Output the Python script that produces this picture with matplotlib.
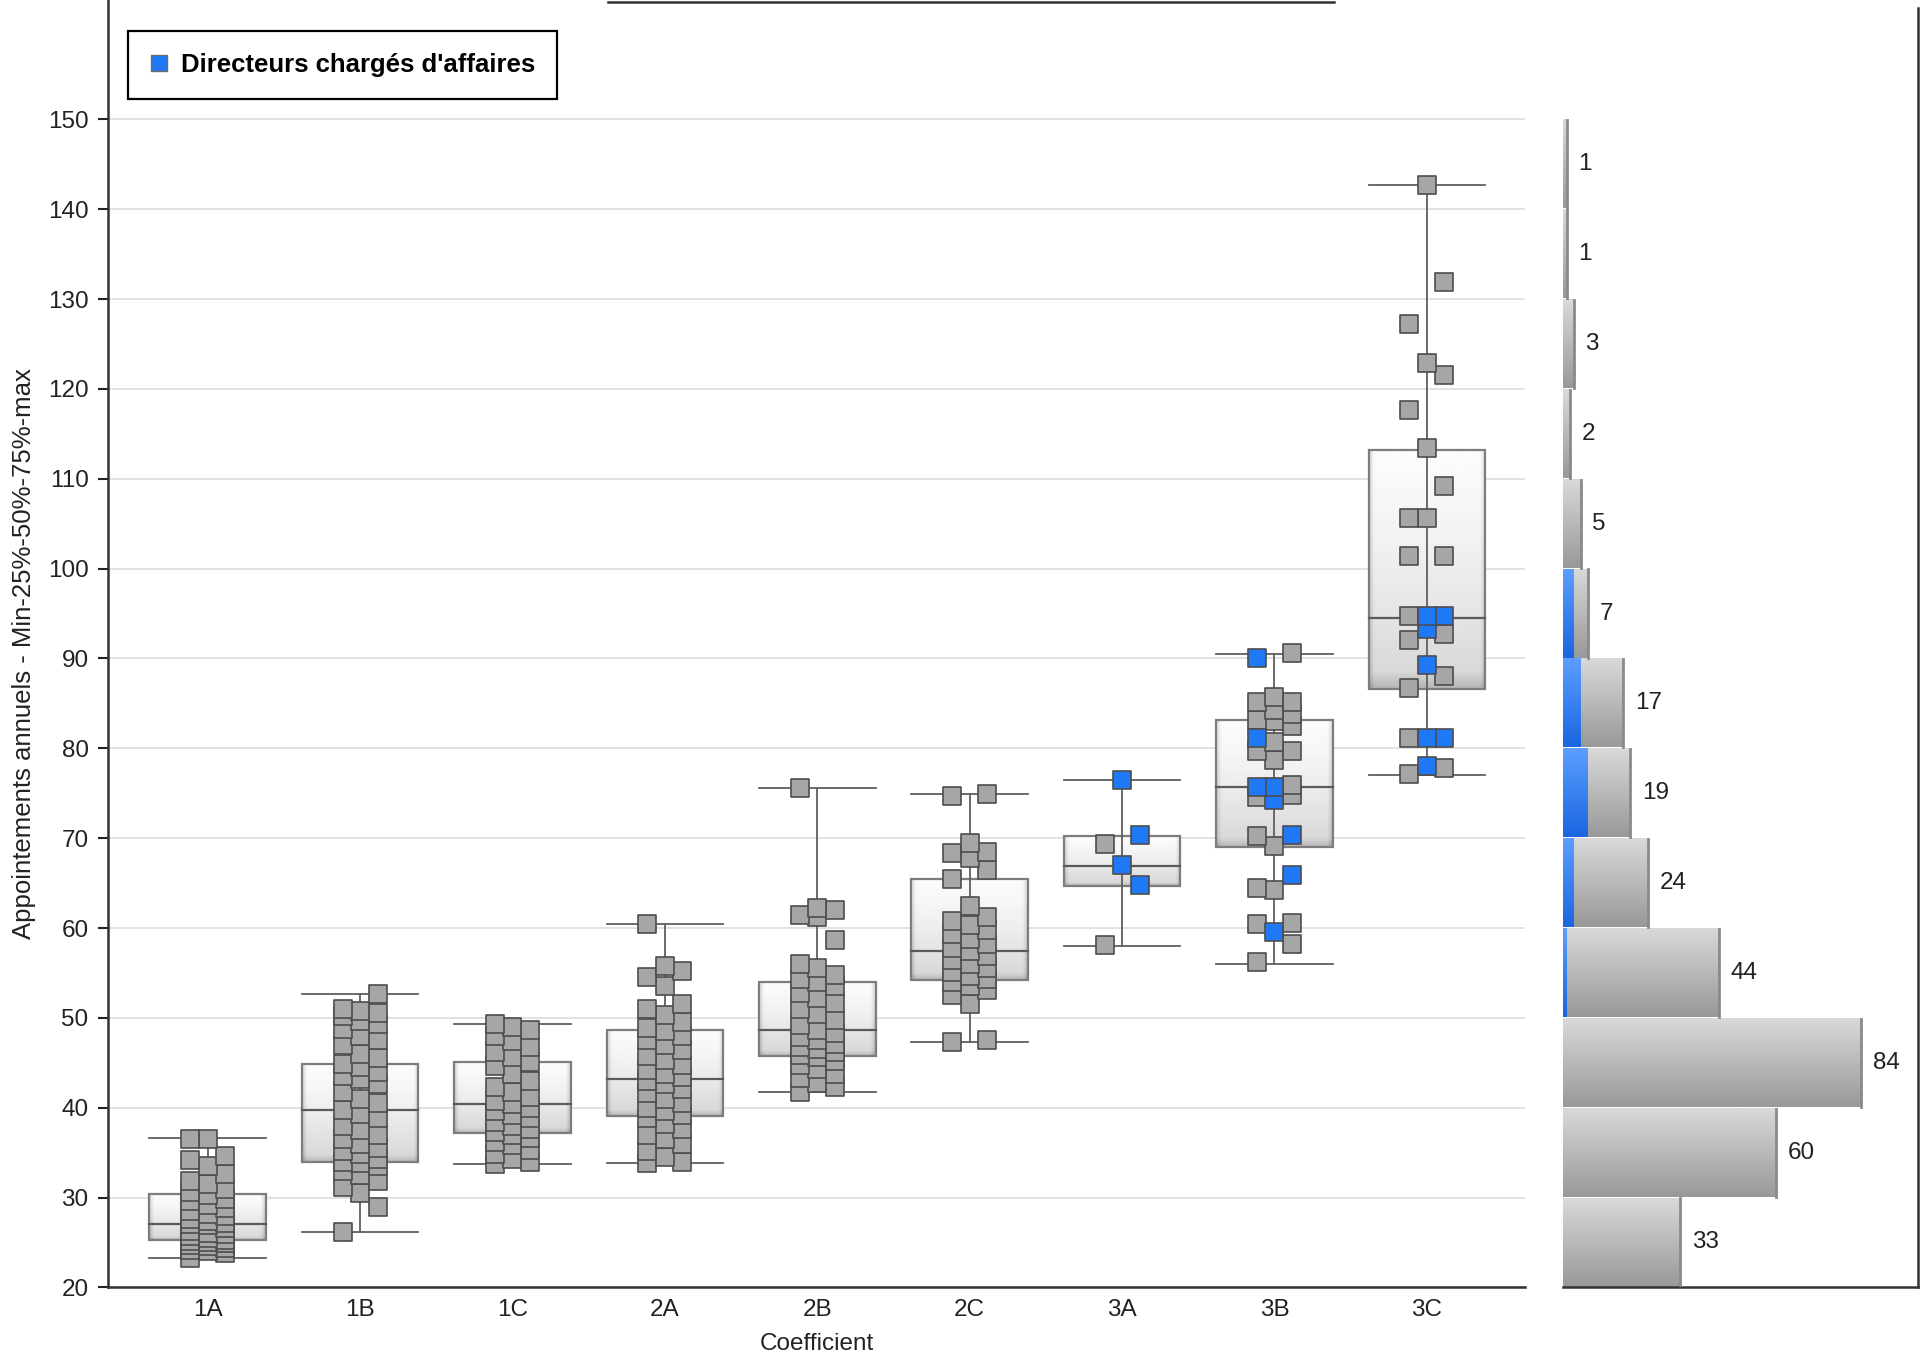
import numpy as np
import matplotlib.pyplot as plt
from matplotlib.lines import Line2D
from matplotlib.patches import Rectangle

plt.rcParams['font.family'] = ['Liberation Sans', 'DejaVu Sans']

categories = ['1A', '1B', '1C', '2A', '2B', '2C', '3A', '3B', '3C']

# box stats: min, 25%, 50%, 75%, max
box_min = [23.3, 26.2, 33.7, 33.8, 41.7, 47.3, 58.0, 56.0, 77.0]
box_q1 = [25.3, 34.0, 37.2, 39.1, 45.7, 54.2, 64.7, 69.0, 86.6]
box_med = [27.1, 39.7, 40.4, 43.2, 48.7, 57.4, 66.9, 75.7, 94.5]
box_q3 = [30.4, 44.9, 45.1, 48.7, 54.0, 65.4, 70.2, 83.2, 113.2]
box_max = [36.6, 52.7, 49.3, 60.5, 75.6, 74.9, 76.5, 90.5, 142.7]

# individual salaries (k), everybody else
others_1A = [36.5, 36.5, 34.6, 34.2, 33.5, 32.6, 31.8, 31.5, 31.0, 30.6, 30.3, 29.8,
             29.6, 29.2, 28.8, 28.5, 28.2, 27.9, 27.6, 27.4, 27.2, 27.1, 26.9, 26.6,
             26.3, 26.1, 25.9, 25.7, 25.5, 25.3, 25.2, 25.0, 24.9, 24.7, 24.6, 24.4,
             24.2, 24.0, 23.8, 23.3]
others_1B = [52.7, 51.0, 50.8, 50.5, 50.2, 49.6, 49.3, 48.8, 48.0, 47.5, 47.0, 46.0,
             45.5, 44.9, 44.5, 44.0, 43.5, 43.2, 42.6, 41.8, 41.0, 40.5, 39.7, 39.3,
             38.8, 38.0, 37.5, 37.0, 36.5, 36.0, 35.5, 35.2, 34.8, 34.3, 34.0, 33.8,
             33.5, 33.0, 32.5, 31.8, 31.2, 30.5, 29.0, 26.2]
others_1C = [49.3, 49.0, 48.6, 48.0, 47.4, 46.8, 46.2, 45.6, 45.1, 44.6, 43.8, 43.0,
             42.3, 41.8, 41.2, 40.8, 40.4, 40.0, 39.6, 39.2, 38.8, 38.4, 38.0, 37.6,
             37.3, 37.0, 36.6, 36.2, 35.8, 35.3, 34.8, 34.3, 34.0, 33.7]
others_2A = [60.5, 55.8, 55.2, 54.5, 53.5, 51.5, 51.0, 50.3, 49.5, 48.9, 48.5, 48.0,
             47.5, 47.0, 46.4, 45.8, 45.3, 44.8, 44.2, 43.8, 43.4, 43.0, 42.6, 42.1,
             41.6, 41.0, 40.5, 40.0, 39.6, 39.2, 38.8, 38.2, 37.6, 37.0, 36.5, 36.0,
             35.2, 34.5, 34.0, 33.8]
others_2B = [75.6, 62.2, 62.0, 61.5, 61.2, 58.7, 56.0, 55.6, 54.8, 54.3, 54.0, 53.5,
             52.8, 52.2, 51.6, 51.0, 50.4, 49.8, 49.2, 48.7, 48.3, 47.9, 47.5, 47.1,
             46.8, 46.5, 46.2, 45.9, 45.6, 45.2, 44.8, 44.3, 43.8, 43.3, 42.8, 42.3, 41.7]
others_2C = [74.9, 74.7, 69.5, 68.5, 68.3, 67.8, 66.5, 65.5, 62.5, 61.2, 60.8, 60.3,
             59.8, 59.3, 58.8, 58.2, 57.8, 57.4, 56.9, 56.4, 56.0, 55.6, 55.1, 54.7,
             54.3, 54.0, 53.6, 53.1, 52.5, 51.5, 47.5, 47.3]
others_3A = [69.3, 58.1]
others_3B = [90.6, 85.7, 85.2, 85.2, 84.3, 83.8, 83.1, 83.0, 82.5, 80.7, 79.7, 79.7,
             78.7, 75.9, 74.8, 74.6, 70.2, 69.1, 64.4, 64.2, 60.6, 60.4, 58.2, 56.2]
others_3C = [142.7, 131.9, 127.2, 122.9, 121.6, 117.6, 113.4, 109.2, 105.6, 105.6,
             101.4, 101.4, 94.7, 92.7, 92.0, 88.1, 86.7, 81.1, 77.8, 77.1]

# directeurs chargés d'affaires
dir_3A = [76.5, 70.4, 67.0, 64.8]
dir_3B = [90.0, 81.1, 75.7, 75.7, 74.2, 70.4, 65.9, 59.5]
dir_3C = [94.7, 94.7, 93.3, 89.3, 81.1, 81.1, 78.0]

others = [others_1A, others_1B, others_1C, others_2A, others_2B, others_2C,
          others_3A, others_3B, others_3C]
directors = [[], [], [], [], [], [], dir_3A, dir_3B, dir_3C]

# side histogram (10k bins from 20 to 150)
bin_edges = [20, 30, 40, 50, 60, 70, 80, 90, 100, 110, 120, 130, 140, 150]
hist_total = [33, 60, 84, 44, 24, 19, 17, 7, 5, 2, 3, 1, 1]
hist_dir = [0, 0, 0, 1, 3, 7, 5, 3, 0, 0, 0, 0, 0]

GREY = '#a6a6a6'
BLUE = '#1f78f5'
W, H = 1928, 1357
px = 8.985  # pixels per salary unit on the y scale

fig = plt.figure(figsize=(W / 100, H / 100), dpi=100)
ax = fig.add_axes([108 / W, 1 - 1287.4 / H, (1525 - 108) / W, 1287.4 / H])
hx = fig.add_axes([1563 / W, 1 - 1287.4 / H, (1918 - 1563) / W, (1287.4 - 8) / H])


def box_shade(nw=80, nh=120):
    v = np.linspace(0, 1, nh)[:, None]
    u = np.linspace(0, 1, nw)[None, :]
    s = 0.985 - 0.15 * v ** 1.4
    side = np.minimum(u, 1 - u)
    s = s - 0.13 * np.clip(1 - side / 0.04, 0, 1)
    s = s - 0.12 * np.clip(1 - (1 - v) / 0.07, 0, 1)
    return s


def grad(a, x0, x1, y0, y1, top, bot, z):
    t = np.linspace(0, 1, 60)[:, None, None]
    img = np.array(top)[None, None, :] * (1 - t) + np.array(bot)[None, None, :] * t
    a.imshow(img, extent=(x0, x1, y0, y1), origin='upper', aspect='auto',
             interpolation='bilinear', zorder=z)


bw = 0.765
jit = 0.115
cols = [-1, 1, 0]
for i, cat in enumerate(categories):
    # box
    ax.imshow(box_shade(), cmap='gray', vmin=0, vmax=1, aspect='auto',
              extent=(i - bw / 2, i + bw / 2, box_q1[i], box_q3[i]),
              origin='upper', interpolation='bilinear', zorder=1)
    ax.add_patch(Rectangle((i - bw / 2, box_q1[i]), bw, box_q3[i] - box_q1[i],
                           fill=False, ec='#7d7d7d', lw=1.6, zorder=2))
    ax.plot([i - bw / 2, i + bw / 2], [box_med[i]] * 2, color='#5a5a5a', lw=1.6, zorder=2)
    ax.plot([i, i], [box_min[i], box_max[i]], color='#5f5f5f', lw=1.3, zorder=2)
    for v in (box_min[i], box_max[i]):
        ax.plot([i - bw / 2, i + bw / 2], [v, v], color='#5f5f5f', lw=1.3, zorder=2)

    # points
    vals = [(v, 0) for v in others[i]] + [(v, 1) for v in directors[i]]
    vals.sort()
    xs = np.array([i + jit * cols[k % 3] for k in range(len(vals))])
    ys = np.array([v for v, d in vals])
    isdir = np.array([d for v, d in vals], dtype=bool)
    ax.scatter(xs[~isdir], ys[~isdir], marker='s', s=150, c=GREY,
               edgecolors='#4d4d4d', linewidths=1.2, zorder=3)
    if isdir.any():
        ax.scatter(xs[isdir], ys[isdir], marker='s', s=150, c=BLUE,
                   edgecolors='#4d4d4d', linewidths=1.2, zorder=4)

ax.set_xlim(-0.654, 8.644)
ax.set_ylim(20, 20 + 1287.4 / px)
ax.set_xticks(range(len(categories)))
ax.set_xticklabels(categories)
ax.set_yticks(np.arange(20, 151, 10))
ax.tick_params(axis='x', length=0, pad=8, labelsize=17.5, colors='#222222')
ax.tick_params(axis='y', length=7, width=1.5, pad=7, labelsize=17.5,
               colors='#222222', direction='out')
ax.yaxis.grid(True, color='#e2e2e2', lw=1.4)
ax.set_axisbelow(True)
for s in ('top', 'right'):
    ax.spines[s].set_visible(False)
for s in ('left', 'bottom'):
    ax.spines[s].set_color('#333333')
    ax.spines[s].set_linewidth(1.8)
ax.set_xlabel('Coefficient', fontsize=17.5, color='#222222', labelpad=9)
ax.set_ylabel('Appointements annuels - Min-25%-50%-75%-max', fontsize=18.5,
              color='#222222', va='center')
ax.yaxis.set_label_coords(-0.059, 0.492)

handle = Line2D([], [], marker='s', ls='none', markersize=12,
                markerfacecolor=BLUE, markeredgecolor='#6a6a6a')
leg = ax.legend([handle], ["Directeurs chargés d'affaires"], loc='upper left',
                bbox_to_anchor=(0.014, 0.976), borderaxespad=0,
                prop={'weight': 'bold', 'size': 18.5}, fancybox=False,
                edgecolor='black', framealpha=1, borderpad=0.85,
                handlelength=0.7, handletextpad=0.5)
leg.get_frame().set_linewidth(1.6)

# side histogram
for k in range(len(hist_total)):
    y0, y1 = bin_edges[k] + 0.1, bin_edges[k + 1] - 0.1
    nd = hist_dir[k]
    if nd > 0:
        grad(hx, 0, nd, y0, y1, (0.36, 0.62, 1.0), (0.10, 0.40, 0.88), 2)
    grad(hx, nd, hist_total[k], y0, y1, (0.85, 0.85, 0.85), (0.60, 0.60, 0.60), 2)
    hx.plot([hist_total[k], hist_total[k]], [y0, y1], color='#8a8a8a', lw=2, zorder=3)
    hx.text(hist_total[k] + 3.3, (bin_edges[k] + bin_edges[k + 1]) / 2,
            str(hist_total[k]), va='center', ha='left', fontsize=17.5, color='#222222')

hx.set_xlim(0, 100)
hx.set_ylim(20, 20 + (1287.4 - 8) / px)
hx.set_xticks([])
hx.set_yticks([])
for s in ('top', 'left'):
    hx.spines[s].set_visible(False)
for s in ('right', 'bottom'):
    hx.spines[s].set_color('#333333')
    hx.spines[s].set_linewidth(1.8)

# remains of the title frame at the top edge
fig.add_artist(Line2D([608 / W, 1334 / W], [1 - 1.5 / H] * 2, color='#333333', lw=1.8))

fig.savefig('out.png', dpi=100, facecolor='white')
